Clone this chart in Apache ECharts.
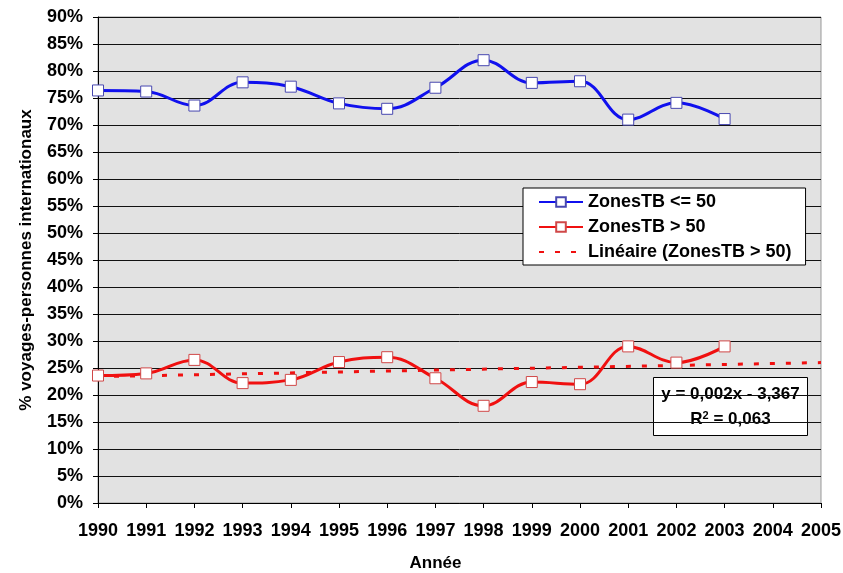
<!DOCTYPE html>
<html>
<head>
<meta charset="utf-8">
<script src="https://cdn.jsdelivr.net/npm/echarts@6/dist/echarts.min.js"></script>
<style>
  html, body { margin: 0; padding: 0; background: #fff; }
  #chart { width: 843px; height: 573px; }
</style>
</head>
<body>
<div id="chart"></div>
<script>
// ---------------------------------------------------------------------------
// Data
// ---------------------------------------------------------------------------
const years      = [1990, 1991, 1992, 1993, 1994, 1995, 1996, 1997, 1998, 1999, 2000, 2001, 2002, 2003];
const zonesLow   = [76.4, 76.2, 73.6, 77.9, 77.1, 74.0, 73.0, 76.9, 82.0, 77.8, 78.1, 71.0, 74.1, 71.1];
const zonesHigh  = [23.6, 24.0, 26.5, 22.2, 22.8, 26.1, 27.0, 23.1, 18.0, 22.4, 22.0, 29.0, 26.0, 29.0];
const trendYears = [1990, 2005];
const trendVals  = [23.4, 26.0];
const equation   = "y = 0,002x - 3,367";
const rSquared   = "0,063";

const FONT = "'Liberation Sans', Arial, sans-serif";
const BLUE = "#1010ee";
const RED  = "#f01010";

const pairs = (xs, ys) => xs.map((x, i) => [x, ys[i]]);

const chart = echarts.init(document.getElementById("chart"));

const option = {
  backgroundColor: "#fff",
  animation: false,
  textStyle: { fontFamily: FONT },
  grid: {
    left: 98, right: 22, top: 17, bottom: 70,
    outerBoundsMode: "none",
    containLabel: false,
    show: true,
    backgroundColor: "#e2e2e2",
    borderColor: "#999",
    borderWidth: 1,
  },
  legend: {
    orient: "vertical",
    left: 523,
    top: 188,
    backgroundColor: "#fff",
    borderColor: "#000",
    borderWidth: 1,
    borderRadius: 0,
    padding: [5, 14, 4, 15],
    itemWidth: 44,
    itemHeight: 12,
    itemGap: 7,
    textStyle: { fontFamily: FONT, fontSize: 18, fontWeight: "bold", color: "#000" },
    data: [
      "ZonesTB <= 50",
      "ZonesTB > 50",
      { name: "Linéaire (ZonesTB > 50)", itemStyle: { opacity: 0 } },
    ],
  },
  xAxis: {
    type: "value",
    min: 1990,
    max: 2005,
    interval: 1,
    name: "Année",
    nameLocation: "middle",
    nameGap: 52,
    nameTextStyle: { fontFamily: FONT, fontSize: 17, fontWeight: "bold", color: "#000", padding: [0, 48, 0, 0] },
    axisLine: { lineStyle: { color: "#000", width: 1 } },
    axisTick: { show: true, length: 5, lineStyle: { color: "#000" } },
    axisLabel: {
      margin: 19,
      fontFamily: FONT, fontSize: 18, fontWeight: "bold", color: "#000",
      formatter: (v) => String(v),
    },
    splitLine: { show: false },
  },
  yAxis: {
    type: "value",
    min: 0,
    max: 90,
    interval: 5,
    name: "% voyages-personnes internationaux",
    nameLocation: "middle",
    nameGap: 63,
    nameRotate: 90,
    nameTextStyle: { fontFamily: FONT, fontSize: 17, fontWeight: "bold", color: "#000" },
    axisLine: { show: true, lineStyle: { color: "#000", width: 1 } },
    axisTick: { show: true, length: 5, lineStyle: { color: "#000" } },
    axisLabel: {
      margin: 15,
      fontFamily: FONT, fontSize: 18, fontWeight: "bold", color: "#000",
      formatter: "{value}%",
    },
    splitLine: { show: true, lineStyle: { color: "#111", width: 1 } },
  },
  series: [
    {
      name: "ZonesTB <= 50",
      type: "line",
      smooth: 0.4,
      data: pairs(years, zonesLow),
      symbol: "rect",
      symbolSize: 11,
      lineStyle: { color: BLUE, width: 3 },
      itemStyle: { color: "#fff", borderColor: "#4848b0", borderWidth: 1 },
      z: 3,
    },
    {
      name: "ZonesTB > 50",
      type: "line",
      smooth: 0.4,
      data: pairs(years, zonesHigh),
      symbol: "rect",
      symbolSize: 11,
      lineStyle: { color: RED, width: 3 },
      itemStyle: { color: "#fff", borderColor: "#d04848", borderWidth: 1 },
      z: 3,
    },
    {
      name: "Linéaire (ZonesTB > 50)",
      type: "line",
      data: pairs(trendYears, trendVals),
      symbol: "none",
      lineStyle: { color: RED, width: 3, type: [5, 11] },
      itemStyle: { color: RED },
      z: 2,
    },
  ],
  graphic: [
    {
      type: "group",
      left: 653,
      top: 377,
      children: [
        {
          type: "rect",
          shape: { x: 0, y: 0, width: 154, height: 58 },
          style: { fill: "#fff", stroke: "#000", lineWidth: 1 },
        },
        {
          type: "text",
          x: 77, y: 17,
          style: {
            text: equation,
            font: "bold 17px " + FONT,
            fill: "#000",
            align: "center",
            verticalAlign: "middle",
          },
        },
        {
          type: "text",
          x: 77, y: 42,
          style: {
            text: "R{sup|2} = " + rSquared,
            font: "bold 17px " + FONT,
            fill: "#000",
            align: "center",
            verticalAlign: "middle",
            rich: {
              sup: { font: "bold 11px " + FONT, fill: "#000", verticalAlign: "top", padding: [0, 0, 8, 0] },
            },
          },
        },
      ],
    },
  ],
};

chart.setOption(option);
</script>
</body>
</html>
